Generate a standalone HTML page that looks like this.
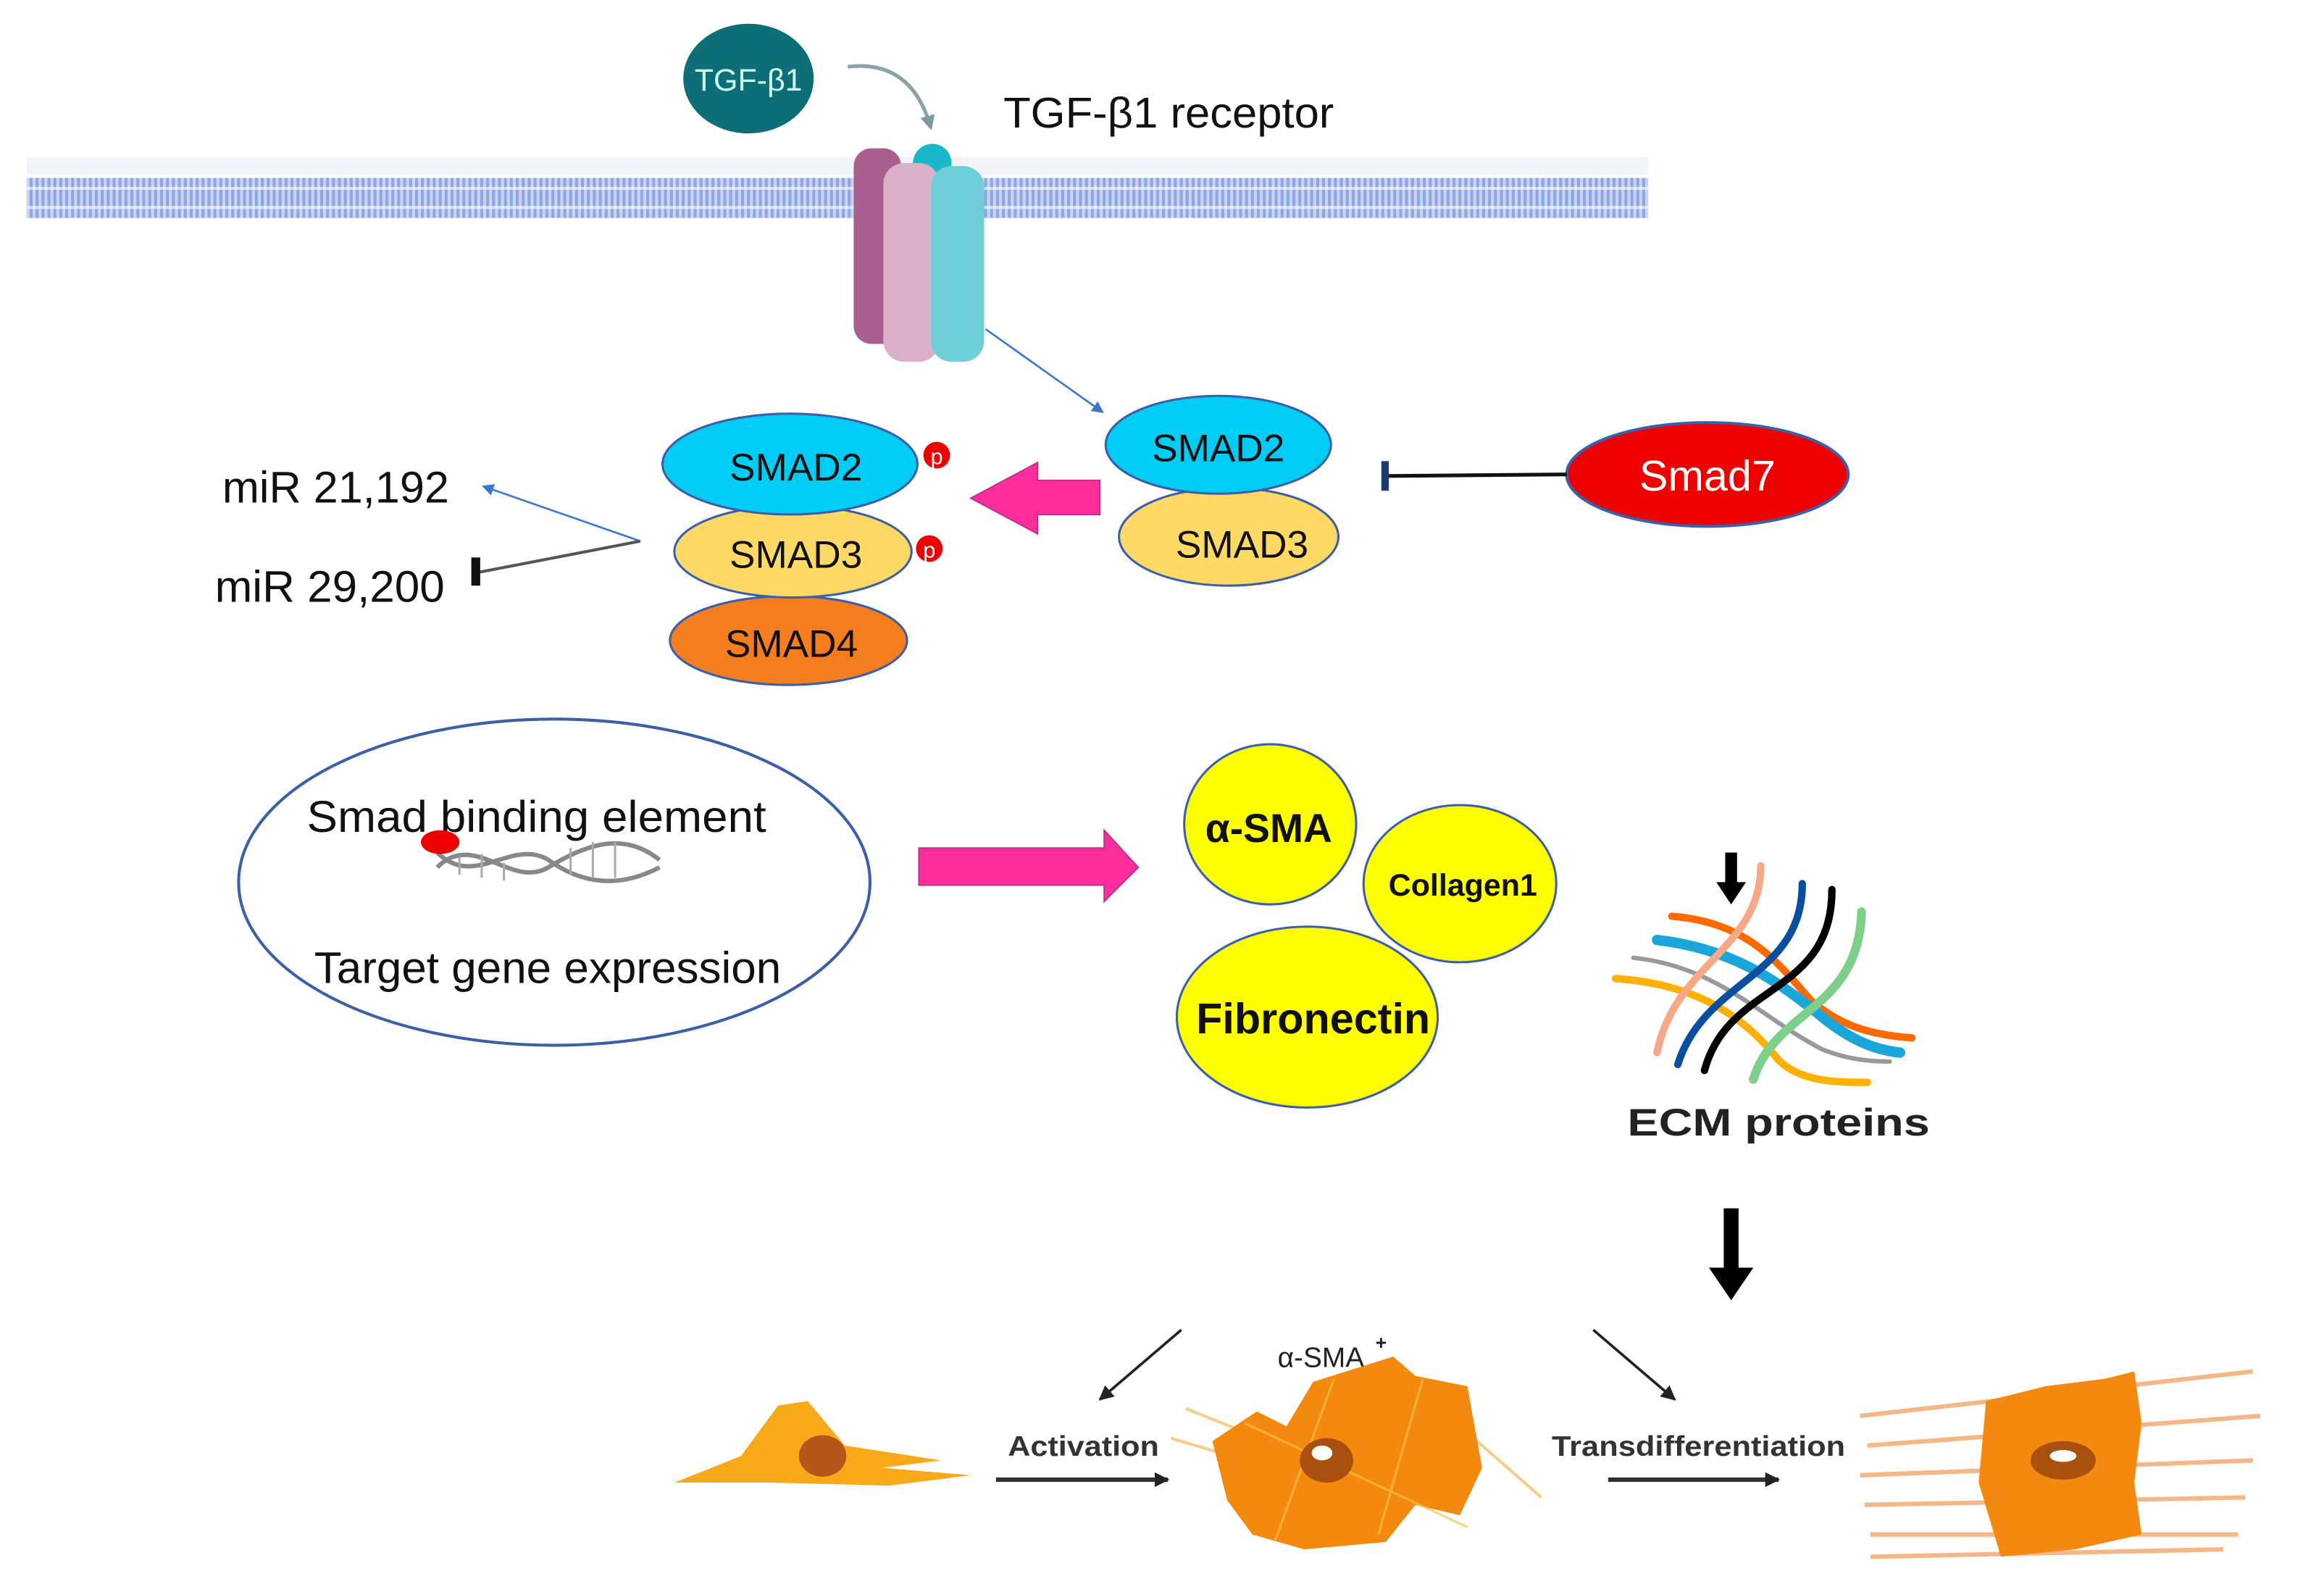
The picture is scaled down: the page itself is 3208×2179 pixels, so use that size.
<!DOCTYPE html>
<html><head><meta charset="utf-8"><style>
html,body{margin:0;padding:0;background:#fff}
svg{display:block}
text{font-family:"Liberation Sans",sans-serif}
</style></head><body>
<svg width="3208" height="2179" viewBox="0 0 1568 1065" preserveAspectRatio="none" xmlns="http://www.w3.org/2000/svg">
<defs>
<pattern id="mem" width="4" height="9" patternUnits="userSpaceOnUse">
<rect width="4" height="9" fill="#c8d4f2"/>
<rect width="2" height="9" fill="#8ea6e2"/>
</pattern>
<marker id="ab" markerWidth="8" markerHeight="8" refX="7" refY="4" orient="auto" markerUnits="userSpaceOnUse"><path d="M0,0L8,4L0,8z" fill="#3a78d0"/></marker>
<marker id="ak" markerWidth="10" markerHeight="10" refX="9" refY="5" orient="auto" markerUnits="userSpaceOnUse"><path d="M0,0L10,5L0,10z" fill="#222"/></marker>
<marker id="ag" markerWidth="10" markerHeight="10" refX="8" refY="5" orient="auto" markerUnits="userSpaceOnUse"><path d="M0,0L10,5L0,10z" fill="#7f9a9e"/></marker>
</defs>
<rect width="1568" height="1065" fill="#fff"/>
<!-- membrane -->
<rect x="18" y="106" width="1094" height="12" fill="#f2f4fa"/>
<rect x="18" y="120" width="1094" height="27" fill="url(#mem)"/>
<rect x="18" y="126" width="1094" height="2" fill="#fff" opacity=".6"/>
<rect x="18" y="139" width="1094" height="2" fill="#fff" opacity=".6"/>
<!-- TGF -->
<ellipse cx="505" cy="53" rx="44" ry="37" fill="#0d6e78"/>
<text x="505" y="61" font-size="21" fill="#cfe" text-anchor="middle">TGF-β1</text>
<path d="M572,45 Q615,40 628,86" fill="none" stroke="#8aa3a6" stroke-width="2.5" marker-end="url(#ag)"/>
<text x="677" y="86" font-size="29" fill="#111" textLength="223" lengthAdjust="spacingAndGlyphs">TGF-β1 receptor</text>
<!-- receptor -->
<circle cx="629" cy="110" r="13" fill="#19b7c7"/>
<rect x="576" y="100" width="32" height="132" rx="12" fill="#a9608e"/>
<rect x="596" y="110" width="38" height="134" rx="14" fill="#dab1c8"/>
<rect x="628" y="112" width="36" height="132" rx="14" fill="#6fcfd9"/>
<line x1="665" y1="222" x2="744" y2="278" stroke="#3a78d0" stroke-width="1.3" marker-end="url(#ab)"/>
<!-- right smads -->
<ellipse cx="829" cy="362" rx="74" ry="33" fill="#ffd966" stroke="#3c5fa8" stroke-width="1.5"/>
<ellipse cx="822" cy="300" rx="76" ry="33" fill="#00ccf5" stroke="#3c5fa8" stroke-width="1.5"/>
<text x="822" y="311" font-size="26" text-anchor="middle" fill="#111">SMAD2</text>
<text x="838" y="376" font-size="26" text-anchor="middle" fill="#111">SMAD3</text>
<!-- smad7 -->
<ellipse cx="1152" cy="320" rx="95" ry="35" fill="#ee0000" stroke="#3c5fa8" stroke-width="2"/>
<text x="1152" y="331" font-size="29" text-anchor="middle" fill="#fff">Smad7</text>
<line x1="1057" y1="320" x2="937" y2="321" stroke="#111" stroke-width="2.5"/>
<rect x="932" y="311" width="5" height="20" fill="#1f3a70"/>
<!-- pink arrow left -->
<path d="M742,324 L700,324 L700,312 L655,336 L700,360 L700,347 L742,347 Z" fill="#ff2e9c" stroke="#c0308a" stroke-width="1"/>
<!-- left stack -->
<ellipse cx="532" cy="432" rx="80" ry="30" fill="#f47d20" stroke="#3c5fa8" stroke-width="1.5"/>
<ellipse cx="535" cy="372" rx="80" ry="31" fill="#ffd966" stroke="#3c5fa8" stroke-width="1.5"/>
<ellipse cx="533" cy="313" rx="86" ry="34" fill="#00ccf5" stroke="#3c5fa8" stroke-width="1.5"/>
<text x="537" y="324" font-size="26" text-anchor="middle" fill="#111">SMAD2</text>
<text x="537" y="383" font-size="26" text-anchor="middle" fill="#111">SMAD3</text>
<text x="534" y="443" font-size="26" text-anchor="middle" fill="#111">SMAD4</text>
<circle cx="632" cy="307" r="9" fill="#e00"/><text x="632" y="313" font-size="15" fill="#fff" text-anchor="middle">p</text>
<circle cx="627" cy="370" r="9" fill="#e00"/><text x="627" y="376" font-size="15" fill="#fff" text-anchor="middle">p</text>
<!-- mirs -->
<text x="150" y="339" font-size="30" fill="#111" textLength="153" lengthAdjust="spacingAndGlyphs">miR 21,192</text>
<text x="145" y="406" font-size="30" fill="#111" textLength="155" lengthAdjust="spacingAndGlyphs">miR 29,200</text>
<line x1="432" y1="365" x2="326" y2="328" stroke="#3a78d0" stroke-width="1.3" marker-end="url(#ab)"/>
<line x1="432" y1="365" x2="323" y2="386" stroke="#555" stroke-width="2"/>
<rect x="318" y="376" width="6" height="19" fill="#111"/>
<!-- big ellipse -->
<ellipse cx="374" cy="595" rx="213" ry="110" fill="#fff" stroke="#3c5fa8" stroke-width="2"/>
<text x="207" y="561" font-size="30" fill="#111" textLength="310" lengthAdjust="spacingAndGlyphs">Smad binding element</text>
<text x="212" y="663" font-size="30" fill="#111" textLength="315" lengthAdjust="spacingAndGlyphs">Target gene expression</text>
<g fill="none" stroke="#888" stroke-width="3">
<path d="M295,585 C320,560 345,600 370,585 C395,570 420,560 445,580"/>
<path d="M295,575 C320,600 345,565 370,580 C395,598 420,598 445,585"/>
</g>
<g stroke="#aaa" stroke-width="1.5"><line x1="310" y1="578" x2="310" y2="590"/><line x1="325" y1="576" x2="325" y2="592"/><line x1="340" y1="582" x2="340" y2="594"/><line x1="385" y1="572" x2="385" y2="590"/><line x1="400" y1="568" x2="400" y2="592"/><line x1="415" y1="568" x2="415" y2="592"/></g>
<ellipse cx="297" cy="568" rx="13" ry="8" fill="#e00"/>
<!-- pink arrow right -->
<path d="M620,572 L745,572 L745,560 L768,585 L745,608 L745,597 L620,597 Z" fill="#ff2e9c" stroke="#c0308a" stroke-width="1"/>
<!-- yellow circles -->
<ellipse cx="857" cy="556" rx="58" ry="54" fill="#ffff00" stroke="#3c5fa8" stroke-width="1.5"/>
<ellipse cx="985" cy="596" rx="65" ry="53" fill="#ffff00" stroke="#3c5fa8" stroke-width="1.5"/>
<ellipse cx="882" cy="686" rx="88" ry="61" fill="#ffff00" stroke="#3c5fa8" stroke-width="1.5"/>
<text x="856" y="568" font-size="27" font-weight="bold" text-anchor="middle" fill="#111">α-SMA</text>
<text x="987" y="604" font-size="21" font-weight="bold" text-anchor="middle" fill="#111">Collagen1</text>
<text x="886" y="697" font-size="29" font-weight="bold" text-anchor="middle" fill="#111">Fibronectin</text>
<!-- ECM -->
<g fill="none" stroke-linecap="round">
<path d="M1128,618 C1180,622 1200,650 1222,675 C1242,692 1262,698 1290,700" stroke="#ff6a00" stroke-width="5"/>
<path d="M1118,634 C1170,640 1200,662 1232,688 C1250,702 1265,708 1282,710" stroke="#1aa6d8" stroke-width="7"/>
<path d="M1102,646 C1160,652 1190,688 1230,708 C1245,714 1260,716 1275,716" stroke="#999" stroke-width="3"/>
<path d="M1090,660 C1150,664 1180,690 1200,715 C1215,730 1240,730 1260,730" stroke="#ffb000" stroke-width="5"/>
<path d="M1188,584 C1188,640 1130,650 1118,710" stroke="#f7a887" stroke-width="5"/>
<path d="M1216,596 C1216,660 1150,660 1132,718" stroke="#0a4ea0" stroke-width="5"/>
<path d="M1236,600 C1236,672 1166,662 1150,722" stroke="#000" stroke-width="5"/>
<path d="M1256,615 C1254,682 1198,680 1183,728" stroke="#7dcf8a" stroke-width="6"/>
</g>
<path d="M1164,575 L1164,595 L1158,595 L1168,610 L1178,595 L1172,595 L1172,575 Z" fill="#000"/>
<text x="1200" y="766" font-size="26" font-weight="bold" text-anchor="middle" fill="#222" textLength="204" lengthAdjust="spacingAndGlyphs">ECM proteins</text>
<!-- big down arrow -->
<path d="M1163,815 L1173,815 L1173,855 L1183,855 L1168,877 L1153,855 L1163,855 Z" fill="#000"/>
<!-- bottom -->
<line x1="797" y1="897" x2="742" y2="944" stroke="#222" stroke-width="1.8" marker-end="url(#ak)"/>
<line x1="1075" y1="897" x2="1130" y2="944" stroke="#222" stroke-width="1.8" marker-end="url(#ak)"/>
<text x="862" y="922" font-size="19" fill="#222">α-SMA</text><text x="928" y="910" font-size="13" font-weight="bold" fill="#222">+</text>
<text x="680" y="982" font-size="19" font-weight="bold" fill="#333" textLength="102" lengthAdjust="spacingAndGlyphs">Activation</text>
<text x="1047" y="982" font-size="19" font-weight="bold" fill="#333" textLength="198" lengthAdjust="spacingAndGlyphs">Transdifferentiation</text>
<line x1="672" y1="998" x2="788" y2="998" stroke="#333" stroke-width="3" marker-end="url(#ak)"/>
<line x1="1085" y1="998" x2="1200" y2="998" stroke="#333" stroke-width="3" marker-end="url(#ak)"/>
<!-- cell 1 -->
<path d="M455,1000 L500,982 L525,948 L545,945 L570,975 L635,985 L595,990 L655,995 L600,1002 L520,1000 Z" fill="#f8a91a"/>
<ellipse cx="555" cy="982" rx="16" ry="14" fill="#b7561a"/>
<!-- cell 2 -->
<g stroke="#f6c36a" stroke-width="2" opacity=".8"><line x1="790" y1="970" x2="840" y2="985"/><line x1="960" y1="940" x2="1040" y2="1010"/><line x1="800" y1="950" x2="850" y2="970"/></g>
<path d="M818,972 L848,952 L868,962 L886,932 L940,915 L955,928 L990,935 L1000,990 L985,1022 L955,1015 L935,1040 L880,1045 L845,1035 L828,1012 Z" fill="#f38a0f"/>
<g stroke="#fbc04a" stroke-width="1.5" opacity=".7"><line x1="840" y1="960" x2="990" y2="1030"/><line x1="900" y1="930" x2="860" y2="1040"/><line x1="960" y1="930" x2="930" y2="1035"/></g>
<ellipse cx="895" cy="985" rx="18" ry="15" fill="#a9500f"/><ellipse cx="892" cy="980" rx="7" ry="5" fill="#fff"/>
<!-- cell 3 -->
<g stroke="#f3a66a" stroke-width="3" opacity=".8">
<line x1="1255" y1="955" x2="1520" y2="925"/><line x1="1260" y1="975" x2="1525" y2="955"/><line x1="1255" y1="995" x2="1520" y2="985"/><line x1="1258" y1="1015" x2="1515" y2="1010"/><line x1="1262" y1="1035" x2="1510" y2="1035"/><line x1="1262" y1="1050" x2="1500" y2="1045"/>
</g>
<path d="M1340,945 L1380,935 L1420,930 L1440,925 L1445,960 L1440,1000 L1445,1035 L1400,1045 L1350,1050 L1335,1000 Z" fill="#f38a0f"/>
<ellipse cx="1392" cy="985" rx="22" ry="13" fill="#a9500f"/><ellipse cx="1392" cy="982" rx="9" ry="4" fill="#fff"/>
</svg>
</body></html>
